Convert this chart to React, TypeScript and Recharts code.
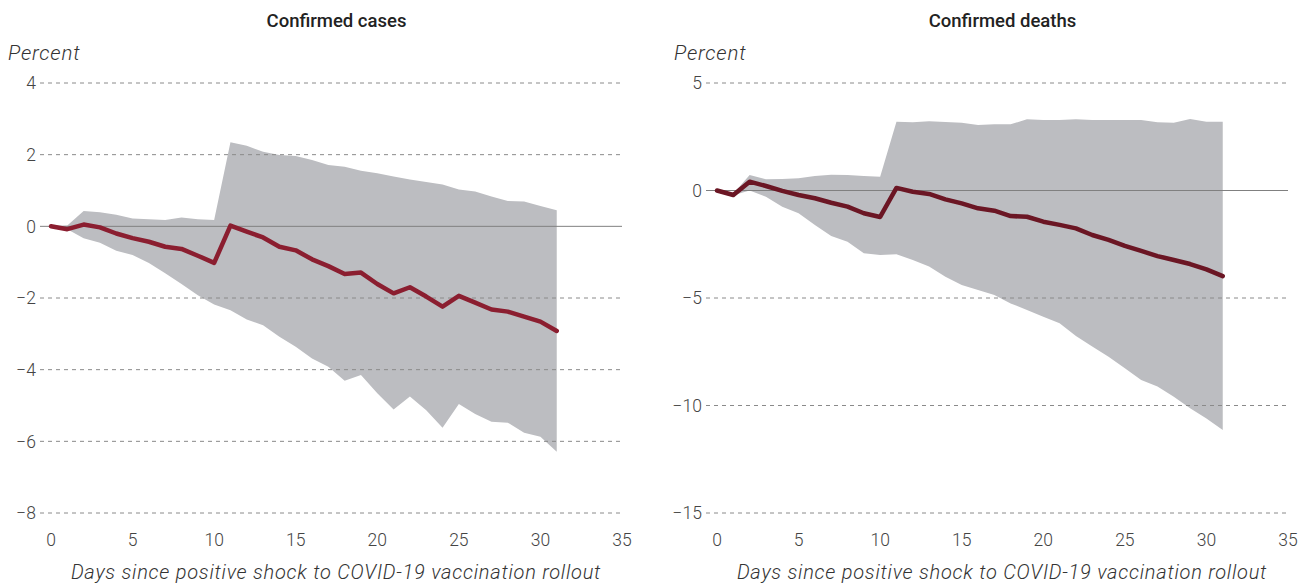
import React from "react";
import {
  ComposedChart,
  Area,
  Line,
  XAxis,
  YAxis,
  ReferenceLine,
} from "recharts";

const days = [
  0, 1, 2, 3, 4, 5, 6, 7, 8, 9, 10, 11, 12, 13, 14, 15, 16, 17, 18, 19, 20,
  21, 22, 23, 24, 25, 26, 27, 28, 29, 30, 31,
];

// confirmed cases (percent)
const casesMid = [
  0, -0.08, 0.05, -0.03, -0.2, -0.33, -0.43, -0.57, -0.63, -0.82, -1.02, 0.02,
  -0.15, -0.31, -0.57, -0.67, -0.92, -1.11, -1.33, -1.29, -1.61, -1.87, -1.7,
  -1.96, -2.24, -1.94, -2.13, -2.32, -2.38, -2.52, -2.66, -2.92,
];
const casesHigh = [
  0, 0.02, 0.43, 0.39, 0.32, 0.22, 0.2, 0.18, 0.25, 0.2, 0.18, 2.35, 2.25,
  2.08, 1.99, 1.96, 1.85, 1.71, 1.66, 1.55, 1.48, 1.39, 1.31, 1.24, 1.17, 1.03,
  0.97, 0.83, 0.71, 0.69, 0.57, 0.45,
];
const casesLow = [
  0, -0.08, -0.33, -0.46, -0.68, -0.8, -1.02, -1.31, -1.61, -1.92, -2.18,
  -2.34, -2.6, -2.76, -3.08, -3.36, -3.69, -3.92, -4.31, -4.15, -4.66, -5.11,
  -4.75, -5.13, -5.62, -4.96, -5.24, -5.45, -5.48, -5.76, -5.87, -6.29,
];

// confirmed deaths (percent)
const deathsMid = [
  0, -0.21, 0.41, 0.21, -0.02, -0.21, -0.36, -0.57, -0.75, -1.06, -1.23, 0.12,
  -0.06, -0.16, -0.41, -0.6, -0.83, -0.94, -1.19, -1.22, -1.45, -1.6, -1.76,
  -2.07, -2.3, -2.58, -2.81, -3.05, -3.23, -3.42, -3.67, -3.98,
];
const deathsHigh = [
  0, -0.15, 0.72, 0.52, 0.53, 0.57, 0.67, 0.73, 0.72, 0.67, 0.64, 3.2, 3.17,
  3.22, 3.19, 3.15, 3.05, 3.08, 3.08, 3.31, 3.28, 3.28, 3.31, 3.28, 3.28, 3.28,
  3.28, 3.17, 3.15, 3.33, 3.2, 3.2,
];
const deathsLow = [
  0, -0.22, 0.0, -0.29, -0.75, -1.06, -1.6, -2.12, -2.38, -2.92, -3.0, -2.97,
  -3.23, -3.54, -4.01, -4.4, -4.63, -4.86, -5.25, -5.56, -5.87, -6.18, -6.77,
  -7.26, -7.73, -8.27, -8.81, -9.12, -9.59, -10.13, -10.6, -11.14,
];

const xTicks = [0, 5, 10, 15, 20, 25, 30, 35];
const casesTicks = [4, 2, 0, -2, -4, -6, -8];
const deathsTicks = [5, 0, -5, -10, -15];

const FONT = "Roboto, 'Liberation Sans', Arial, sans-serif";
const xLabel = "Days since positive shock to COVID-19 vaccination rollout";

function rows(mid: number[], lo: number[], hi: number[]) {
  return days.map((d, i) => ({ day: d, mid: mid[i], band: [lo[i], hi[i]] }));
}

function Panel(props: {
  title: string;
  width: number;
  mid: number[];
  lo: number[];
  hi: number[];
  ticks: number[];
  color: string;
}) {
  const { title, width, mid, lo, hi, ticks, color } = props;
  const data = rows(mid, lo, hi);
  const domain = [ticks[ticks.length - 1], ticks[0]];
  return (
    <div style={{ position: "relative", width, height: 585, flex: "none" }}>
      <div
        style={{
          position: "absolute",
          left: 51,
          width: 571,
          top: 10,
          textAlign: "center",
          fontSize: 18.5,
          fontWeight: 500,
          color: "#222",
        }}
      >
        {title}
      </div>
      <div
        style={{
          position: "absolute",
          left: 8,
          top: 41,
          fontSize: 20.5,
          fontWeight: 300,
          fontStyle: "italic",
          letterSpacing: 0.8,
          color: "#333",
        }}
      >
        Percent
      </div>
      <ComposedChart
        width={width}
        height={585}
        data={data}
        margin={{ top: 83, bottom: 42, left: 0, right: width - 622 }}
      >
        <XAxis
          dataKey="day"
          type="number"
          domain={[0, 35]}
          ticks={xTicks}
          padding={{ left: 11, right: 0 }}
          axisLine={false}
          tickLine={false}
          tickSize={0}
          tickMargin={21}
          interval={0}
          tick={{ fill: "#444", fontSize: 17.5, fontWeight: 300, fontFamily: FONT }}
        />
        <YAxis
          type="number"
          width={40}
          domain={domain}
          ticks={ticks}
          interval={0}
          axisLine={false}
          tickLine={false}
          tickSize={0}
          tickMargin={4}
          tickFormatter={(v: number) => String(v).replace("-", "\u2212")}
          tick={{ fill: "#444", fontSize: 17.5, fontWeight: 300, fontFamily: FONT }}
        />
        <Area
          dataKey="band"
          type="linear"
          fill="#bcbdc1"
          fillOpacity={1}
          stroke="none"
          isAnimationActive={false}
        />
        {ticks
          .filter((t) => t !== 0)
          .map((t) => (
            <ReferenceLine
              key={t}
              y={t}
              stroke="#8a8a8a"
              strokeDasharray="4 4"
              strokeWidth={1}
            />
          ))}
        <ReferenceLine y={0} stroke="#808080" strokeWidth={1} />
        <Line
          dataKey="mid"
          type="linear"
          stroke={color}
          strokeWidth={4.5}
          strokeLinecap="round"
          strokeLinejoin="round"
          dot={false}
          activeDot={false}
          isAnimationActive={false}
        />
      </ComposedChart>
      <div
        style={{
          position: "absolute",
          left: 36,
          width: 600,
          top: 560,
          textAlign: "center",
          fontSize: 20,
          fontWeight: 300,
          fontStyle: "italic",
          letterSpacing: 0.75,
          color: "#333",
          whiteSpace: "nowrap",
        }}
      >
        {xLabel}
      </div>
    </div>
  );
}

export default function App() {
  return (
    <div
      style={{
        position: "absolute",
        left: 0,
        top: 0,
        width: 1301,
        height: 585,
        overflow: "hidden",
        background: "#fff",
        fontFamily: FONT,
        display: "flex",
      }}
    >
      <Panel
        title="Confirmed cases"
        width={666}
        mid={casesMid}
        lo={casesLow}
        hi={casesHigh}
        ticks={casesTicks}
        color="#8b1e30"
      />
      <Panel
        title="Confirmed deaths"
        width={635}
        mid={deathsMid}
        lo={deathsLow}
        hi={deathsHigh}
        ticks={deathsTicks}
        color="#6b1624"
      />
    </div>
  );
}
